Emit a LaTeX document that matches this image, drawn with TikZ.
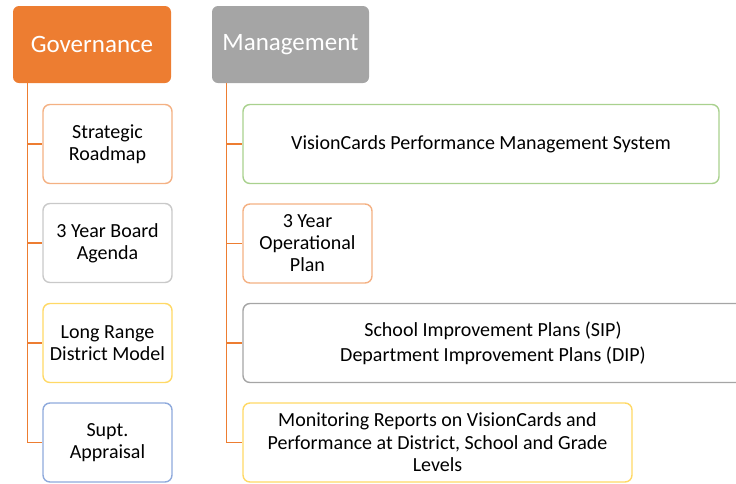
\documentclass[tikz,border=0pt]{standalone}
\usepackage{fontspec}
\setmainfont{Carlito}
\definecolor{govorange}{HTML}{ED7D31}
\definecolor{mgmtgray}{HTML}{A5A5A5}
\definecolor{lorange}{HTML}{F4B183}
\definecolor{lgray}{HTML}{C9C9C9}
\definecolor{lyellow}{HTML}{FFD966}
\definecolor{lblue}{HTML}{8FAADC}
\definecolor{lgreen}{HTML}{A9D18E}
\tikzset{
  headbox/.style={rounded corners=6pt, minimum width=158pt, minimum height=77pt,
    text=white, font=\fontsize{25}{29}\selectfont},
  itembox/.style={draw, rounded corners=7pt, line width=1.4pt, fill=white,
    minimum height=79pt, align=center, font=\fontsize{20}{22}\selectfont},
  branch/.style={draw=govorange, line width=1.3pt}
}
\begin{document}
\begin{tikzpicture}[x=1pt,y=-1pt]
\useasboundingbox (0,0) rectangle (736,483);
\clip (0,0) rectangle (736,483);

% headers
\node[headbox, fill=govorange] (gov) at (92,44.5) {Governance};
\node[headbox, fill=mgmtgray, minimum width=157pt] (mgmt) at (290.5,44.5) {Management};

% governance items
\node[itembox, draw=lorange, minimum width=129pt] (roadmap) at (107.5,144) {Strategic\\Roadmap};
\node[itembox, draw=lgray, minimum width=129pt] (agenda) at (107.5,243) {3 Year Board\\Agenda};
\node[itembox, draw=lyellow, minimum width=129pt] (model) at (107.5,343) {Long Range\\District Model};
\node[itembox, draw=lblue, minimum width=129pt] (appraisal) at (107.5,442.5) {Supt.\\Appraisal};

% management items
\node[itembox, draw=lgreen, minimum width=476pt] (vision) at (481,144) {VisionCards Performance Management System};
\node[itembox, draw=lorange, minimum width=129pt] (opplan) at (307.5,243.5) {3 Year\\Operational\\Plan};
\node[itembox, draw=mgmtgray, minimum width=500pt, font=\fontsize{20}{25}\selectfont] (sip) at (493,343) {School Improvement Plans (SIP)\\Department Improvement Plans (DIP)};
\node[itembox, draw=lyellow, minimum width=389pt, font=\fontsize{20}{22.5}\selectfont] (reports) at (437.5,442.5) {Monitoring Reports on VisionCards and\\Performance at District, School and Grade\\Levels};

% branches
\coordinate (govstem) at ([xshift=15pt]gov.south west);
\coordinate (mgmtstem) at ([xshift=15pt]mgmt.south west);
\foreach \n in {roadmap, agenda, model, appraisal}
  \draw[branch] (govstem) |- (\n.west);
\foreach \n in {vision, opplan, sip, reports}
  \draw[branch] (mgmtstem) |- (\n.west);
\end{tikzpicture}
\end{document}
